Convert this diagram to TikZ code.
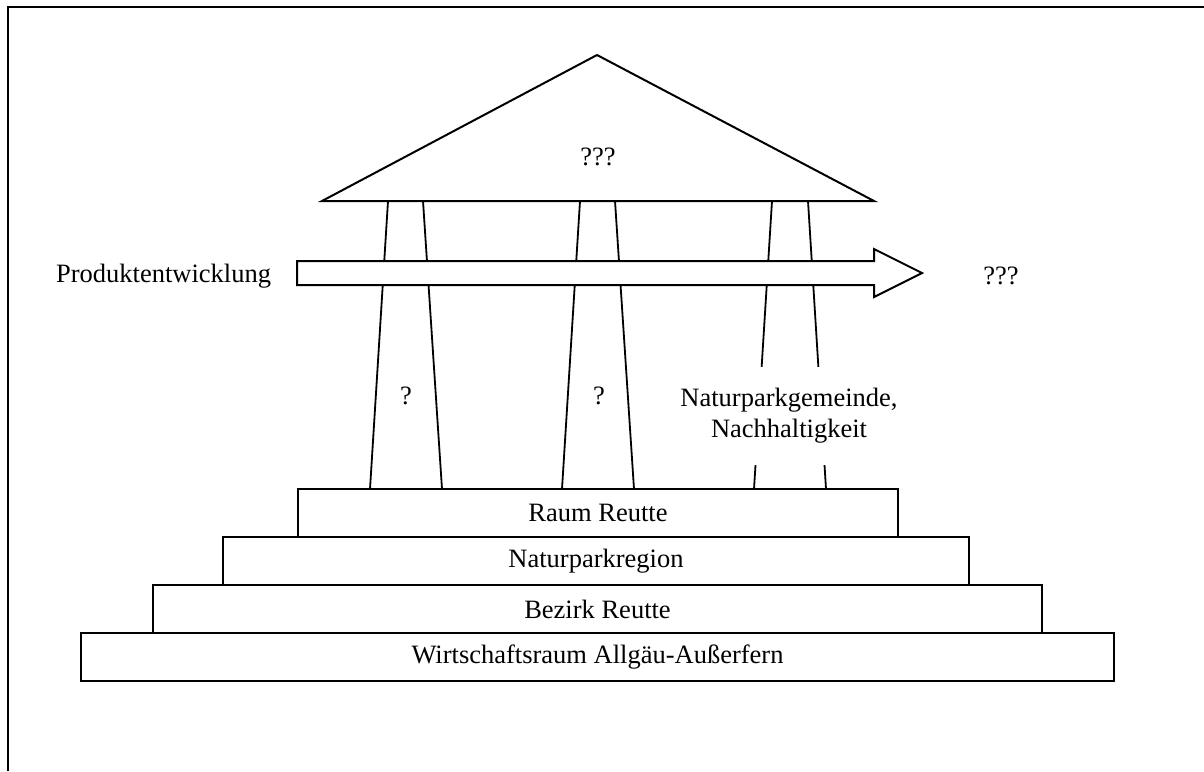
\documentclass[tikz,border=0pt]{standalone}
\usepackage{fontspec}
\setmainfont{Liberation Serif}
\begin{document}
\begin{tikzpicture}[x=0.5pt,y=-0.5pt,line width=1pt,
  txt/.style={font=\fontsize{13.25}{15.5}\selectfont,inner sep=0pt},
  stepbox/.style={draw,fill=white,minimum height=24pt,inner sep=0pt,font=\fontsize{13.25}{15.5}\selectfont},
  pillar/.style={line width=0.9pt}]
\useasboundingbox (0,0) rectangle (1204,771);
% frame
\draw (8,771) -- (8,6.5) -- (1204,6.5);
% pillars
\draw[pillar] (388,201) -- (370,489);
\draw[pillar] (423,201) -- (442,489);
\draw[pillar] (580,201) -- (562,489);
\draw[pillar] (615,201) -- (634,489);
\draw[pillar] (772,201) -- (754,489);
\draw[pillar] (808,201) -- (826,489);
% roof
\draw[fill=white] (322,201) -- (597,55) -- (874,201) -- cycle;
\node[txt] (roof) at (598,157) {???};
% arrow
\draw[fill=white] (297,261) -- (874,261) -- (874,249) -- (922,273) -- (874,297) -- (874,285) -- (297,285) -- cycle;
\node[txt,anchor=east] (prod) at (272,276) {Produktentwicklung};
\node[txt] (goal) at (1001,276) {???};
% pillar labels
\node[txt] (p1) at (406,396) {?};
\node[txt] (p2) at (599,396) {?};
\node[txt,fill=white,align=center,minimum height=49pt,inner xsep=2pt] (p3) at (789,416)
  {Naturparkgemeinde,\\Nachhaltigkeit};
% steps
\node[stepbox,minimum width=300pt] (raum) at (598,513) {Raum Reutte};
\node[stepbox,minimum width=373pt] (npr) at (596,561) {Naturparkregion};
\node[stepbox,minimum width=444.5pt] (bez) at (597.5,609) {Bezirk Reutte};
\node[stepbox,minimum width=516.5pt] (wir) at (597.5,657) {Wirtschaftsraum Allgäu-Außerfern};
\end{tikzpicture}
\end{document}
